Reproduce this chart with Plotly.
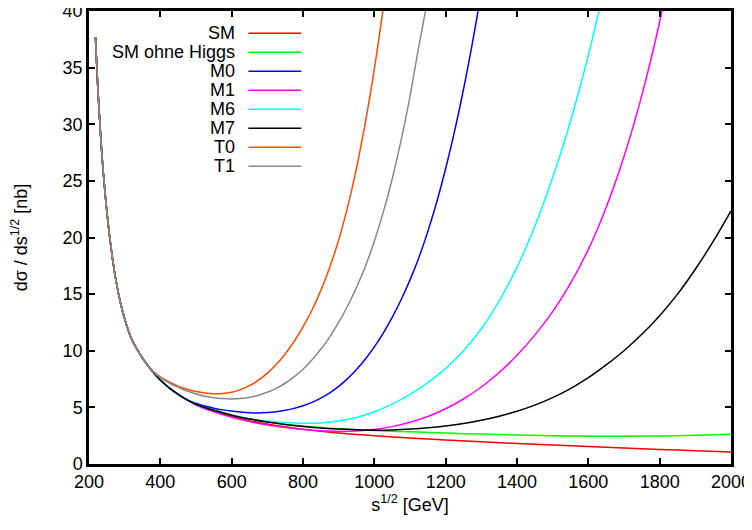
import plotly.graph_objects as go

# ---- data ----
series_names = ["SM", "SM ohne Higgs", "M0", "M1", "M6", "M7", "T0", "T1"]
series_colors = ["#ff0000", "#00ff00", "#0000ff", "#ff00ff", "#00ffff", "#000000", "#ff4a00", "#888888"]

# common steep part near threshold (shared by all models)
s_low = [218, 225, 233, 242, 252, 263, 275, 290, 305, 320, 340, 360]
y_low = [37.7, 33.0, 28.8, 25.0, 21.7, 18.8, 16.3, 14.0, 12.3, 11.0, 9.85, 8.9]

# continuation shared by the lower bunch (SM, SM ohne Higgs, M0, M1, M6, M7)
s_mid = [380, 400, 425, 450, 475]
y_mid = [8.1, 7.42, 6.72, 6.14, 5.66]

sm_s = [500, 550, 600, 650, 700, 750, 800, 850, 900, 950, 1000, 1100, 1200, 1300, 1400, 1500, 1600, 1700, 1800, 1900, 2000]
sm_y = [5.24, 4.66, 4.20, 3.83, 3.53, 3.28, 3.07, 2.89, 2.74, 2.61, 2.50, 2.30, 2.12, 1.96, 1.81, 1.67, 1.54, 1.41, 1.29, 1.18, 1.07]

noh_s = [500, 550, 600, 650, 700, 750, 800, 850, 900, 950, 1000, 1100, 1200, 1300, 1400, 1500, 1600, 1700, 1800, 1900, 2000]
noh_y = [5.3, 4.76, 4.33, 3.99, 3.73, 3.52, 3.36, 3.23, 3.12, 3.03, 2.96, 2.84, 2.73, 2.64, 2.56, 2.50, 2.46, 2.45, 2.48, 2.54, 2.62]

m0_s = [500, 525, 550, 575, 600, 625, 650, 675, 700, 725, 750, 775, 800, 825, 850, 875, 900, 925, 950, 975,
        1000, 1025, 1050, 1075, 1100, 1125, 1150, 1175, 1200, 1225, 1250, 1275, 1300]
m0_y = [5.36, 5.12, 4.93, 4.78, 4.67, 4.59, 4.53, 4.50, 4.54, 4.62, 4.74, 4.91, 5.14, 5.44, 5.82, 6.29, 6.86, 7.54, 8.34, 9.27,
        10.34, 11.56, 12.94, 14.5, 16.26, 18.24, 20.54, 23.14, 26.09, 29.39, 33.09, 37.19, 41.69]

m1_s = [500, 550, 600, 650, 700, 750, 800, 850, 900, 950, 1000, 1050, 1100, 1150, 1200, 1250, 1300, 1350,
        1400, 1450, 1500, 1550, 1600, 1650, 1700, 1750, 1800, 1850]
m1_y = [5.2, 4.6, 4.12, 3.74, 3.45, 3.22, 3.05, 2.94, 2.88, 2.92, 3.05, 3.30, 3.68, 4.20, 4.88, 5.74, 6.80, 8.08,
        9.60, 11.38, 13.45, 15.95, 18.95, 22.65, 27.15, 32.55, 39.05, 46.85]

m6_s = [500, 550, 600, 650, 700, 750, 800, 850, 900, 950, 1000, 1050, 1100, 1150, 1200, 1250, 1300, 1350,
        1400, 1450, 1500, 1550, 1600, 1650]
m6_y = [5.3, 4.76, 4.33, 4.0, 3.78, 3.66, 3.6, 3.63, 3.79, 4.11, 4.61, 5.29, 6.15, 7.19, 8.44, 9.99, 11.94, 14.39,
        17.39, 20.99, 25.29, 30.29, 36.09, 42.79]

m7_s = [500, 550, 600, 650, 700, 750, 800, 850, 900, 950, 1000, 1050, 1100, 1150, 1200, 1250, 1300, 1350,
        1400, 1450, 1500, 1550, 1600, 1650, 1700, 1750, 1800, 1850, 1900, 1950, 2000]
m7_y = [5.28, 4.74, 4.31, 3.97, 3.70, 3.48, 3.31, 3.18, 3.08, 3.02, 2.99, 3.01, 3.08, 3.19, 3.35, 3.57, 3.86, 4.22,
        4.66, 5.20, 5.86, 6.66, 7.62, 8.75, 10.0, 11.45, 13.1, 15.0, 17.2, 19.65, 22.35]

t0_s = [380, 400, 425, 450, 475, 500, 525, 550, 575, 600, 625, 650, 675, 700, 725, 750, 775, 800,
        825, 850, 875, 900, 925, 950, 975, 1000, 1025, 1050]
t0_y = [8.18, 7.7, 7.24, 6.88, 6.6, 6.4, 6.27, 6.2, 6.22, 6.34, 6.57, 6.92, 7.4, 8.02, 8.79, 9.72, 10.82, 12.1,
        13.58, 15.33, 17.38, 19.78, 22.68, 26.13, 30.18, 34.88, 40.28, 46.48]

t1_s = [380, 400, 425, 450, 475, 500, 525, 550, 575, 600, 625, 650, 675, 700, 725, 750, 775, 800,
        825, 850, 875, 900, 925, 950, 975, 1000, 1025, 1050, 1075, 1100, 1125, 1150]
t1_y = [8.14, 7.62, 7.15, 6.76, 6.44, 6.18, 5.99, 5.86, 5.78, 5.75, 5.79, 5.89, 6.07, 6.33, 6.68, 7.13, 7.69, 8.37,
        9.18, 10.13, 11.23, 12.5, 13.95, 15.6, 17.47, 19.67, 22.22, 25.17, 28.57, 32.47, 36.92, 41.12]

x_ticks = [200, 400, 600, 800, 1000, 1200, 1400, 1600, 1800, 2000]
y_ticks = [0, 5, 10, 15, 20, 25, 30, 35, 40]

bunch = [True, True, True, True, True, True, False, False]
series_s = [sm_s, noh_s, m0_s, m1_s, m6_s, m7_s, t0_s, t1_s]
series_y = [sm_y, noh_y, m0_y, m1_y, m6_y, m7_y, t0_y, t1_y]

# ---- figure ----
W, H = 752, 530
OFF = 8  # page body margin around the plot div
L, R, T, B = 80.6, 29.25, 3.3, 74.2
FONT = "Liberation Sans, Arial, Helvetica, sans-serif"

fig = go.Figure()
for name, col, xs, ys, inb in zip(series_names, series_colors, series_s, series_y, bunch):
    xx = s_low + (s_mid if inb else []) + xs
    yy = y_low + (y_mid if inb else []) + ys
    fig.add_trace(go.Scatter(
        x=xx, y=yy, mode="lines", name=name,
        line=dict(color=col, width=1.5, shape="spline", smoothing=1.0),
        showlegend=False, hoverinfo="skip"))

# gnuplot-style key: right-aligned label followed by line sample (page pixel positions)
pw, ph = W - L - R, H - T - B
def px2paper_x(px):
    return (px - OFF - L) / pw
def px2paper_y(py):
    return (H - B - (py - OFF)) / ph

row0, drow = 33.5, 19.0
for i, (name, col) in enumerate(zip(series_names, series_colors)):
    yc = row0 + i * drow
    fig.add_annotation(x=px2paper_x(237), y=px2paper_y(yc), xref="paper", yref="paper",
                       text=name, showarrow=False, xanchor="right", yanchor="middle",
                       font=dict(size=18, color="black", family=FONT))
    fig.add_shape(type="line", xref="paper", yref="paper",
                  x0=px2paper_x(248), x1=px2paper_x(301),
                  y0=px2paper_y(yc), y1=px2paper_y(yc),
                  line=dict(color=col, width=1.5))

axis_common = dict(showline=True, linecolor="black", linewidth=2.5, mirror="ticks",
                   ticks="inside", ticklen=6, tickwidth=2, tickcolor="black",
                   showgrid=False, zeroline=False, automargin=False,
                   ticklabeloverflow="allow",
                   tickfont=dict(size=18, color="black", family=FONT))

fig.update_layout(
    width=W, height=H,
    margin=dict(l=L, r=R, t=T, b=B),
    paper_bgcolor="white", plot_bgcolor="white",
    font=dict(family=FONT, size=18, color="black"),
    xaxis=dict(range=[200, 2000], tickvals=x_ticks, ticktext=[str(v) for v in x_ticks],
               title=dict(text="s<sup>1/2</sup> [GeV]", standoff=6,
                          font=dict(size=18, family=FONT)),
               **axis_common),
    yaxis=dict(range=[0, 40], tickvals=y_ticks, ticktext=[str(v) for v in y_ticks],
               title=dict(text="dσ / ds<sup>1/2</sup> [nb]", standoff=34,
                          font=dict(size=18, family=FONT)),
               **axis_common),
)

# let the top tick label ("40") draw into the page margin instead of being clipped
post = ("document.querySelectorAll('.main-svg').forEach(function(s){s.style.overflow='visible';});")
fig.write_html("out.html", post_script=post)
